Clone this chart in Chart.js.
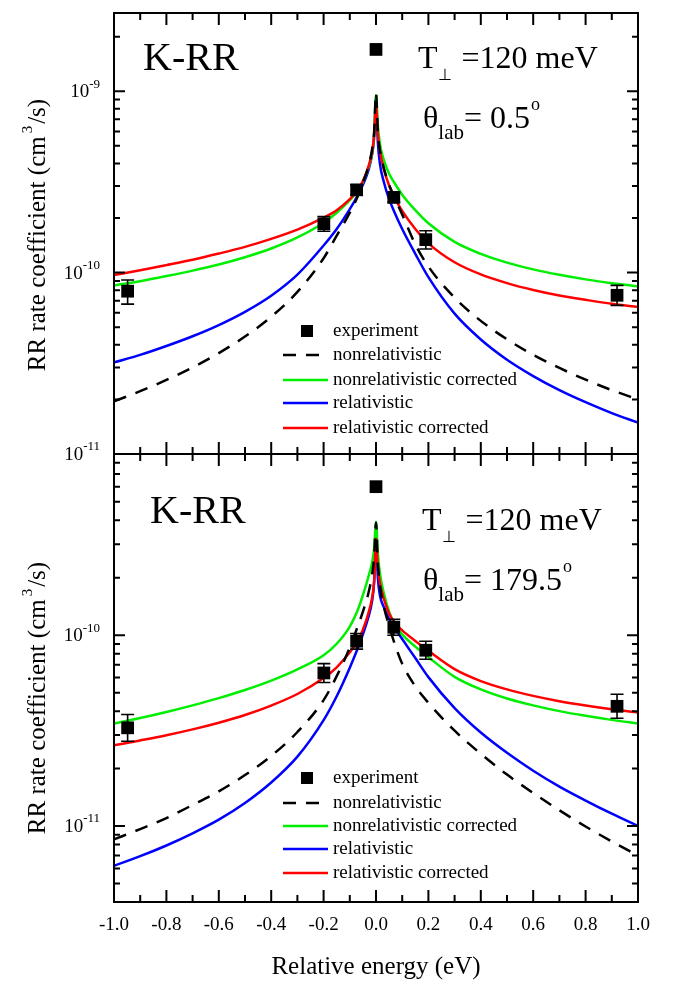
<!DOCTYPE html>
<html>
<head>
<meta charset="utf-8">
<script src="https://cdn.jsdelivr.net/npm/chart.js@4.4.0/dist/chart.umd.min.js"></script>
<style>
  body { margin: 0; background: #fff; }
  #wrap { position: relative; width: 674px; height: 982px; }
  canvas { position: absolute; left: 0; }
</style>
</head>
<body>
<div id="wrap">
  <canvas id="topChart" width="674" height="460" style="top:0px"></canvas>
  <canvas id="botChart" width="674" height="542" style="top:440px"></canvas>
</div>
<script>
// energy grid of the calculated curves (eV)
const energy = [-1, -0.9, -0.8, -0.7, -0.6, -0.5, -0.4, -0.3, -0.2, -0.15, -0.1, -0.07, -0.05, -0.03, -0.015, -0.007, 0,
  0.007, 0.015, 0.03, 0.05, 0.07, 0.1, 0.15, 0.2, 0.3, 0.4, 0.5, 0.6, 0.7, 0.8, 0.9, 1];

// experiment energies (eV)
const expEnergy = [-0.948, -0.199, -0.074, 0, 0.068, 0.19, 0.92];

// upper panel, theta_lab = 0.5 deg
const topExp = [7.9e-11, 1.86e-10, 2.86e-10, 1.7e-9, 2.6e-10, 1.52e-10, 7.5e-11];
const topExpLow = [6.7e-11, 1.69e-10, 2.68e-10, 1.7e-9, 2.44e-10, 1.35e-10, 6.6e-11];
const topExpHigh = [9.1e-11, 2.04e-10, 3.05e-10, 1.7e-9, 2.77e-10, 1.7e-10, 8.5e-11];
const topNonrel = [1.95e-11, 2.22e-11, 2.56e-11, 3.0e-11, 3.6e-11, 4.44e-11, 5.71e-11, 7.83e-11, 1.2e-10, 1.6e-10, 2.14e-10, 2.63e-10, 3.13e-10, 3.8e-10, 4.79e-10, 6.03e-10, 9.8e-10,
  5.96e-10, 4.73e-10, 3.76e-10, 3.05e-10, 2.6e-10, 2.09e-10, 1.43e-10, 1.08e-10, 7.28e-11, 5.42e-11, 4.29e-11, 3.52e-11, 2.98e-11, 2.57e-11, 2.25e-11, 2.0e-11];
const topNonrelCorr = [8.49e-11, 8.97e-11, 9.57e-11, 1.026e-10, 1.109e-10, 1.216e-10, 1.358e-10, 1.563e-10, 1.884e-10, 2.14e-10, 2.51e-10, 2.82e-10, 3.16e-10, 3.76e-10, 4.52e-10, 5.75e-10, 9.5e-10,
  6.46e-10, 5.13e-10, 4.17e-10, 3.51e-10, 3.13e-10, 2.69e-10, 2.21e-10, 1.87e-10, 1.476e-10, 1.268e-10, 1.135e-10, 1.042e-10, 9.73e-11, 9.18e-11, 8.75e-11, 8.39e-11];
const topRel = [3.2e-11, 3.52e-11, 3.94e-11, 4.46e-11, 5.14e-11, 6.08e-11, 7.46e-11, 9.75e-11, 1.41e-10, 1.74e-10, 2.24e-10, 2.66e-10, 3.05e-10, 3.63e-10, 4.47e-10, 5.62e-10, 9.33e-10,
  5.25e-10, 3.98e-10, 3.16e-10, 2.54e-10, 2.16e-10, 1.74e-10, 1.27e-10, 9.44e-11, 5.94e-11, 4.28e-11, 3.31e-11, 2.69e-11, 2.25e-11, 1.93e-11, 1.68e-11, 1.49e-11];
const topRelCorr = [9.7e-11, 1.03e-10, 1.1e-10, 1.178e-10, 1.274e-10, 1.387e-10, 1.535e-10, 1.726e-10, 2.01e-10, 2.21e-10, 2.54e-10, 2.85e-10, 3.2e-10, 3.8e-10, 4.62e-10, 5.75e-10, 8.4e-10,
  5.82e-10, 4.68e-10, 3.72e-10, 3.02e-10, 2.6e-10, 2.19e-10, 1.74e-10, 1.45e-10, 1.14e-10, 9.77e-11, 8.75e-11, 8.02e-11, 7.48e-11, 7.08e-11, 6.73e-11, 6.46e-11];

// lower panel, theta_lab = 179.5 deg
const botExp = [3.27e-11, 6.34e-11, 9.3e-11, 6.0e-10, 1.1e-10, 8.34e-11, 4.24e-11];
const botExpLow = [2.78e-11, 5.65e-11, 8.45e-11, 6.0e-10, 1.0e-10, 7.48e-11, 3.67e-11];
const botExpHigh = [3.84e-11, 7.1e-11, 1.02e-10, 6.0e-10, 1.21e-10, 9.3e-11, 4.9e-11];
const botNonrel = [8.51e-12, 9.64e-12, 1.1e-11, 1.29e-11, 1.52e-11, 1.85e-11, 2.33e-11, 3.11e-11, 4.57e-11, 6.1e-11, 8.61e-11, 1.11e-10, 1.33e-10, 1.64e-10, 2.07e-10, 2.6e-10, 3.89e-10,
  2.4e-10, 1.82e-10, 1.41e-10, 1.12e-10, 9.12e-11, 7.08e-11, 5.4e-11, 4.42e-11, 3.16e-11, 2.39e-11, 1.86e-11, 1.49e-11, 1.21e-11, 9.95e-12, 8.3e-12, 7.0e-12];
const botNonrelCorr = [3.44e-11, 3.68e-11, 3.96e-11, 4.29e-11, 4.68e-11, 5.16e-11, 5.78e-11, 6.62e-11, 7.85e-11, 9.02e-11, 1.11e-10, 1.35e-10, 1.62e-10, 2.0e-10, 2.4e-10, 2.85e-10, 3.93e-10,
  2.69e-10, 2.11e-10, 1.66e-10, 1.33e-10, 1.15e-10, 1.01e-10, 8.71e-11, 7.67e-11, 6.05e-11, 5.2e-11, 4.66e-11, 4.29e-11, 4.0e-11, 3.78e-11, 3.6e-11, 3.45e-11];
const botRel = [6.19e-12, 6.95e-12, 7.91e-12, 9.16e-12, 1.08e-11, 1.32e-11, 1.69e-11, 2.31e-11, 3.59e-11, 4.79e-11, 6.76e-11, 8.51e-11, 1.01e-10, 1.23e-10, 1.51e-10, 1.91e-10, 3.31e-10,
  2.0e-10, 1.62e-10, 1.4e-10, 1.22e-10, 1.1e-10, 9.55e-11, 7.59e-11, 6.03e-11, 4.15e-11, 3.09e-11, 2.42e-11, 1.95e-11, 1.61e-11, 1.36e-11, 1.16e-11, 1.0e-11];
const botRelCorr = [2.65e-11, 2.81e-11, 2.99e-11, 3.21e-11, 3.48e-11, 3.82e-11, 4.28e-11, 4.92e-11, 5.96e-11, 6.79e-11, 8.13e-11, 9.33e-11, 1.07e-10, 1.29e-10, 1.57e-10, 1.93e-10, 3.2e-10,
  2.29e-10, 1.88e-10, 1.55e-10, 1.3e-10, 1.17e-10, 1.06e-10, 9.33e-11, 8.28e-11, 6.64e-11, 5.75e-11, 5.2e-11, 4.81e-11, 4.51e-11, 4.28e-11, 4.09e-11, 3.94e-11];

const FONT = '"Liberation Serif", "Times New Roman", serif';

function series(vals) {
  return energy.map((e, i) => ({x: e, y: vals[i]}));
}

function makeDatasets(exp, lo, hi, nonrel, nonrelCorr, rel, relCorr) {
  return [
    {label: 'experiment', data: expEnergy.map((e, i) => ({x: e, y: exp[i]})), errLow: lo, errHigh: hi,
      showLine: false, pointStyle: 'rect', pointRadius: 9, backgroundColor: '#000', borderColor: '#000', borderWidth: 0, order: 0},
    {label: 'nonrelativistic', data: series(nonrel), borderColor: '#000', borderDash: [13, 10], order: 1},
    {label: 'nonrelativistic corrected', data: series(nonrelCorr), borderColor: '#00ee00', order: 3},
    {label: 'relativistic', data: series(rel), borderColor: '#0000ff', order: 4},
    {label: 'relativistic corrected', data: series(relCorr), borderColor: '#ff0000', order: 2}
  ];
}

function runsWidth(ctx, runs) {
  let w = 0;
  for (const r of runs) {
    ctx.font = r.size + 'px ' + FONT;
    w += ctx.measureText(r.t).width + (r.gap || 0);
  }
  return w;
}

function drawRuns(ctx, x, y, runs) {
  for (const r of runs) {
    ctx.font = r.size + 'px ' + FONT;
    ctx.fillText(r.t, x, y + (r.dy || 0));
    x += ctx.measureText(r.t).width + (r.gap || 0);
  }
}

// frame, inward ticks, labels, texts, legend and error bars
const paper = {
  id: 'paper',
  afterDatasetsDraw(chart) {
    const {ctx, scales: {x, y}} = chart;
    const exp = chart.data.datasets[0];
    ctx.save();
    ctx.strokeStyle = '#000';
    ctx.lineWidth = 1.6;
    exp.data.forEach((p, i) => {
      if (exp.errLow[i] === exp.errHigh[i]) return;
      const px = x.getPixelForValue(p.x);
      const y1 = y.getPixelForValue(exp.errLow[i]);
      const y2 = y.getPixelForValue(exp.errHigh[i]);
      ctx.beginPath();
      ctx.moveTo(px, y1); ctx.lineTo(px, y2);
      ctx.moveTo(px - 6.5, y1); ctx.lineTo(px + 6.5, y1);
      ctx.moveTo(px - 6.5, y2); ctx.lineTo(px + 6.5, y2);
      ctx.stroke();
    });
    ctx.restore();
  },
  afterDraw(chart, args, opts) {
    const {ctx, chartArea: a, scales: {x, y}} = chart;
    ctx.save();
    ctx.strokeStyle = '#000';
    ctx.fillStyle = '#000';
    ctx.lineWidth = 2;
    ctx.strokeRect(a.left, a.top, a.right - a.left, a.bottom - a.top);

    // x ticks
    ctx.beginPath();
    for (let i = -10; i <= 10; i++) {
      const px = x.getPixelForValue(i / 10);
      const len = i % 2 === 0 ? 12 : 7;
      ctx.moveTo(px, a.bottom); ctx.lineTo(px, a.bottom - len);
      ctx.moveTo(px, a.top); ctx.lineTo(px, a.top + len);
    }
    // log y ticks
    const d0 = Math.floor(Math.log10(y.min)), d1 = Math.ceil(Math.log10(y.max));
    const decades = [];
    for (let d = d0; d <= d1; d++) {
      for (let m = 1; m <= 9; m++) {
        const v = m * Math.pow(10, d);
        if (v < y.min * 0.999 || v > y.max * 1.001) continue;
        const py = y.getPixelForValue(v);
        const len = m === 1 ? 11 : 6;
        ctx.moveTo(a.left, py); ctx.lineTo(a.left + len, py);
        ctx.moveTo(a.right, py); ctx.lineTo(a.right - len, py);
        if (m === 1) decades.push([d, py]);
      }
    }
    ctx.stroke();

    // y tick labels 10^n
    ctx.textBaseline = 'middle';
    for (const [d, py] of decades) {
      const runs = [{t: '10', size: 19}, {t: String(d), size: 13, dy: -8}];
      drawRuns(ctx, a.left - 14 - runsWidth(ctx, runs), py + 1, runs);
    }

    // y title
    ctx.save();
    ctx.translate(38, opts.yTitleY);
    ctx.rotate(-Math.PI / 2);
    const tRuns = [{t: 'RR rate coefficient (cm', size: 25, gap: 3}, {t: '3', size: 15, dy: -10, gap: 2}, {t: '/s)', size: 25}];
    drawRuns(ctx, -runsWidth(ctx, tRuns) / 2, 0, tRuns);
    ctx.restore();

    // x tick labels and title
    if (opts.xLabels) {
      ctx.textAlign = 'center';
      ctx.font = '19px ' + FONT;
      for (let i = -5; i <= 5; i++) {
        ctx.fillText((i / 5).toFixed(1), x.getPixelForValue(i / 5), a.bottom + 23);
      }
      ctx.font = '25px ' + FONT;
      ctx.fillText('Relative energy (eV)', (a.left + a.right) / 2, a.bottom + 65);
      ctx.textAlign = 'left';
    }

    // panel texts
    ctx.textBaseline = 'alphabetic';
    for (const t of opts.texts) drawRuns(ctx, t.x, t.y, t.runs);

    // legend
    ctx.textBaseline = 'middle';
    const x0 = 283;
    chart.data.datasets.forEach((ds, i) => {
      const ly = opts.legendY[i];
      if (i === 0) {
        ctx.fillRect(x0 + 18, ly - 6, 12, 12);
      } else {
        ctx.strokeStyle = ds.borderColor;
        ctx.lineWidth = 2.5;
        ctx.setLineDash(ds.borderDash || []);
        ctx.beginPath();
        ctx.moveTo(x0, ly); ctx.lineTo(x0 + (ds.borderDash ? 37 : 45), ly);
        ctx.stroke();
        ctx.setLineDash([]);
      }
      ctx.font = '19px ' + FONT;
      ctx.fillText(ds.label, x0 + 50, ly);
    });
    ctx.restore();
  }
};

function makeConfig(datasets, yMin, yMax, padding, paperOpts) {
  return {
    type: 'line',
    data: {datasets},
    options: {
      responsive: false,
      animation: false,
      devicePixelRatio: 1,
      layout: {padding, autoPadding: false},
      elements: {
        line: {borderWidth: 2.5, cubicInterpolationMode: 'monotone', fill: false},
        point: {radius: 0}
      },
      scales: {
        x: {type: 'linear', min: -1, max: 1, display: false},
        y: {type: 'logarithmic', min: yMin, max: yMax, display: false}
      },
      plugins: {legend: {display: false}, tooltip: {enabled: false}, paper: paperOpts}
    },
    plugins: [paper]
  };
}

const topChart = new Chart(document.getElementById('topChart'), makeConfig(
  makeDatasets(topExp, topExpLow, topExpHigh, topNonrel, topNonrelCorr, topRel, topRelCorr),
  1e-11, 2.7e-9, {left: 114, right: 36, top: 13, bottom: 6},
  {
    xLabels: false,
    yTitleY: 235,
    legendY: [331, 355, 380, 403, 428],
    texts: [
      {x: 143, y: 70, runs: [{t: 'K-RR', size: 40}]},
      {x: 418, y: 68, runs: [{t: 'T', size: 32}, {t: '\u22A5', size: 16, dy: 12, gap: 2}, {t: ' =120 meV', size: 32}]},
      {x: 423, y: 128, runs: [{t: '\u03B8', size: 32}, {t: 'lab', size: 21, dy: 11}, {t: '= 0.5', size: 32, gap: 1}, {t: 'o', size: 18, dy: -18}]}
    ]
  }
));

const botChart = new Chart(document.getElementById('botChart'), makeConfig(
  makeDatasets(botExp, botExpLow, botExpHigh, botNonrel, botNonrelCorr, botRel, botRelCorr),
  4e-12, 8.9e-10, {left: 114, right: 36, top: 14, bottom: 80},
  {
    xLabels: true,
    yTitleY: 258,
    legendY: [338, 363, 386, 409, 433],
    texts: [
      {x: 150, y: 83, runs: [{t: 'K-RR', size: 40}]},
      {x: 422, y: 90, runs: [{t: 'T', size: 32}, {t: '\u22A5', size: 16, dy: 12, gap: 2}, {t: ' =120 meV', size: 32}]},
      {x: 423, y: 150, runs: [{t: '\u03B8', size: 32}, {t: 'lab', size: 21, dy: 11}, {t: '= 179.5', size: 32, gap: 1}, {t: 'o', size: 18, dy: -18}]}
    ]
  }
));
</script>
</body>
</html>
